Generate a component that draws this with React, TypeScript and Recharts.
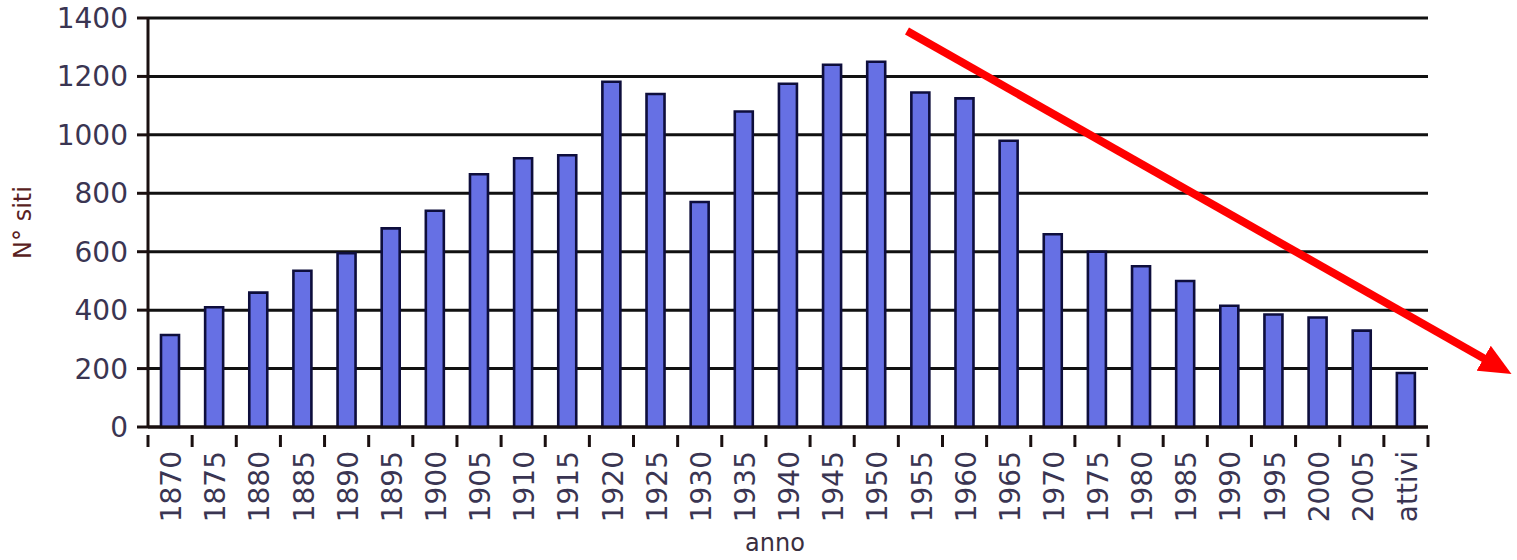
import { Bar, BarChart, CartesianGrid, XAxis, YAxis, Label } from "recharts";

const years = [
  "1870", "1875", "1880", "1885", "1890", "1895", "1900", "1905", "1910", "1915",
  "1920", "1925", "1930", "1935", "1940", "1945", "1950", "1955", "1960", "1965",
  "1970", "1975", "1980", "1985", "1990", "1995", "2000", "2005", "attivi",
];
const siti = [
  315, 410, 460, 535, 595, 680, 740, 865, 920, 930,
  1182, 1140, 770, 1080, 1175, 1240, 1250, 1145, 1125, 980,
  660, 600, 550, 500, 415, 385, 375, 330, 185,
];
const yTicks = [0, 200, 400, 600, 800, 1000, 1200, 1400];

const chartData = years.map((anno, i) => ({ anno, siti: siti[i] }));

const FONT = "'DejaVu Sans', sans-serif";
const TICK_COLOR = "#3a3552";
const AXIS = "#1a1010";

function YearTick(props: any) {
  const { x, y, payload, index } = props;
  const off = payload.offset ?? 22;
  const last = index === years.length - 1;
  return (
    <g transform={`translate(${x},${y})`}>
      <line x1={-off} y1={0} x2={-off} y2={12} stroke={AXIS} strokeWidth={3} />
      {last && <line x1={off} y1={0} x2={off} y2={12} stroke={AXIS} strokeWidth={3} />}
      <text
        transform="translate(1,16) rotate(-90)"
        textAnchor="end"
        dy="0.36em"
        fill={TICK_COLOR}
        fontSize={28}
        fontFamily={FONT}
      >
        {payload.value}
      </text>
    </g>
  );
}

export default function App() {
  return (
    <div style={{ position: "absolute", left: 0, top: 0, width: 1517, height: 560, background: "#fff" }}>
      <BarChart
        width={1517}
        height={560}
        data={chartData}
        margin={{ top: 18, right: 89, left: 0, bottom: 0 }}
        barCategoryGap={0}
      >
        <CartesianGrid vertical={false} stroke="#111" strokeWidth={3} strokeOpacity={1} />
        <XAxis
          dataKey="anno"
          height={133}
          interval={0}
          tickLine={false}
          axisLine={{ stroke: AXIS, strokeWidth: 3 }}
          tick={<YearTick />}
        >
          <Label value="anno" position="insideBottom" offset={0} dx={-13} dy={-9} fill="#3a2f3f" fontSize={24} fontFamily={FONT} />
        </XAxis>
        <YAxis
          width={148}
          domain={[0, 1400]}
          ticks={yTicks}
          interval={0}
          tickSize={11}
          tickMargin={9}
          tickLine={{ stroke: AXIS, strokeWidth: 3 }}
          axisLine={{ stroke: AXIS, strokeWidth: 3 }}
          tick={{ fill: TICK_COLOR, fontSize: 28, fontFamily: FONT }}
        >
          <Label
            value="N° siti"
            angle={-90}
            position="insideLeft"
            offset={14}
            dx={8}
            fill="#5a1e22"
            fontSize={24}
            fontFamily={FONT}
            style={{ textAnchor: "middle" }}
          />
        </YAxis>
        <YAxis yAxisId="border" orientation="right" width={0} domain={[0, 1400]} tick={false} tickLine={false} axisLine={{ stroke: AXIS, strokeWidth: 3 }} />
        <Bar dataKey="siti" barSize={18} fill="#6670e4" stroke="#0e0e3c" strokeWidth={2.6} isAnimationActive={false} />
      </BarChart>
      <svg width={1517} height={560} style={{ position: "absolute", left: 0, top: 0, pointerEvents: "none" }}>
        <defs>
          <marker id="head" markerWidth="4" markerHeight="3.6" refX="1.2" refY="1.8" orient="auto" markerUnits="strokeWidth">
            <path d="M0,0 L4,1.8 L0,3.6 Z" fill="#ff0000" />
          </marker>
        </defs>
        <line x1={907} y1={31} x2={1492} y2={363} stroke="#ff0000" strokeWidth={8} markerEnd="url(#head)" />
      </svg>
    </div>
  );
}
